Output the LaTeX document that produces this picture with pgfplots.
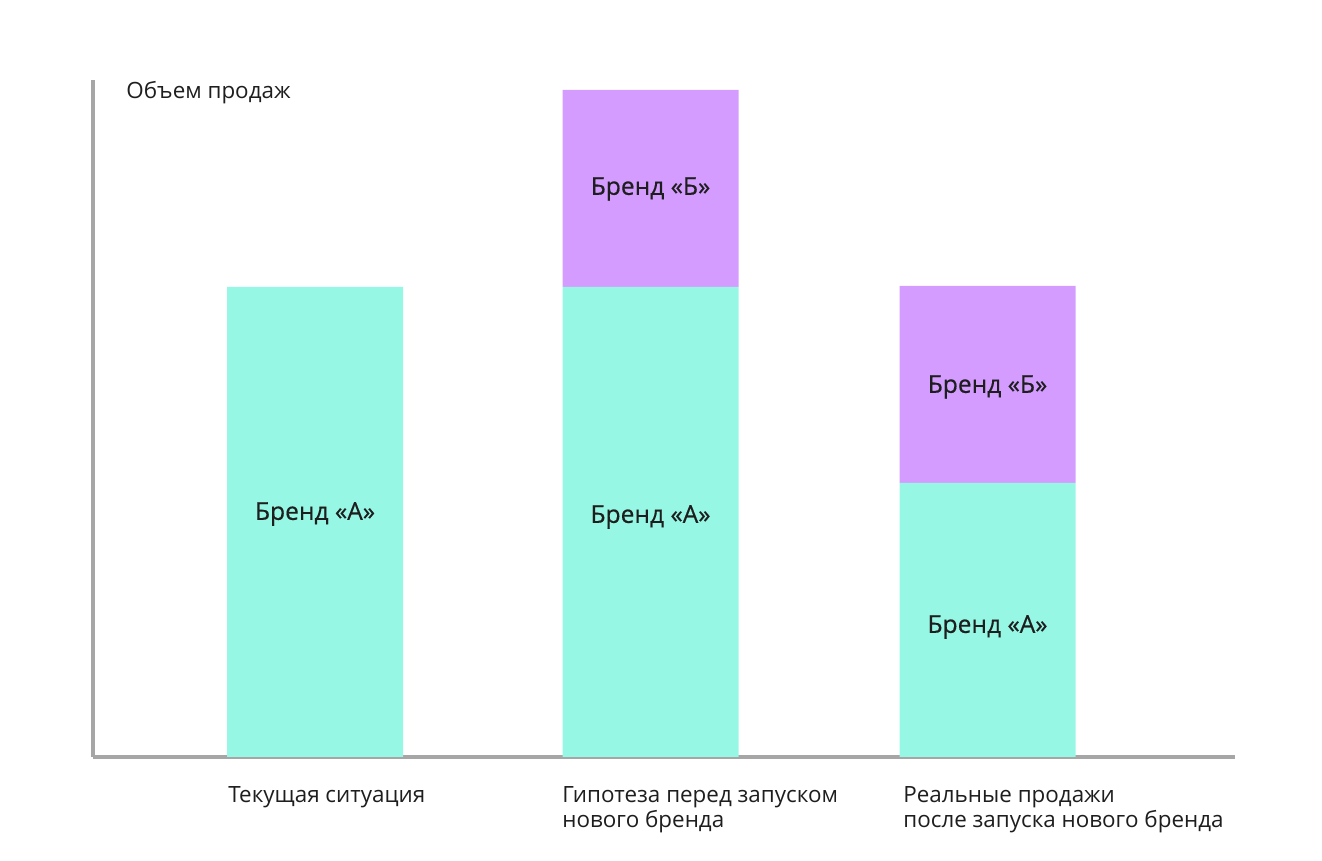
\documentclass[border=0pt]{standalone}
\usepackage{pgfplots}
\pgfplotsset{compat=1.18}
\usepackage{fontspec}
\setmainfont{Open Sans}
\newfontfamily\barfont[FakeBold=0.4]{Open Sans}
\definecolor{teal}{HTML}{96F8E4}
\definecolor{violet}{HTML}{D49CFF}
\definecolor{axgray}{HTML}{A6A6A6}
\definecolor{txt}{HTML}{1E1E1E}
\begin{document}
\begin{tikzpicture}[every node/.style={font=\fontsize{11.2}{12.5}\selectfont, text=txt},
  barlab/.style={font=\barfont\fontsize{12.3}{13}\selectfont}]
\path[use as bounding box] (0,0) rectangle (661pt,430.5pt);
\begin{axis}[
  at={(46.5pt,52pt)}, anchor=south west,
  scale only axis, width=571pt, height=338.5pt,
  xmin=93, xmax=1235, ymin=0, ymax=677,
  axis x line=bottom, axis y line=left,
  axis line style={-, axgray, line width=2.3pt},
  xtick=\empty, ytick=\empty,
  ybar stacked, bar width=176,
  clip=false,
]
\addplot[fill=teal, draw=none] coordinates {(315,470) (650.5,470) (987.5,274)};
\addplot[fill=violet, draw=none] coordinates {(315,0) (650.5,197) (987.5,197)};
\coordinate (l1) at (axis cs:315,243);
\coordinate (l2) at (axis cs:650.5,240);
\coordinate (l3) at (axis cs:650.5,568);
\coordinate (l4) at (axis cs:987.5,370);
\coordinate (l5) at (axis cs:987.5,130);
\node[anchor=base west, inner sep=0pt] at (axis cs:126,658) {Объем продаж};
\node[anchor=base west, inner sep=0pt] at (axis cs:228,-46) {Текущая ситуация};
\node[anchor=base west, inner sep=0pt] at (axis cs:562,-46) {Гипотеза перед запуском};
\node[anchor=base west, inner sep=0pt] at (axis cs:562,-71) {нового бренда};
\node[anchor=base west, inner sep=0pt] at (axis cs:903,-46) {Реальные продажи};
\node[anchor=base west, inner sep=0pt] at (axis cs:903,-71) {после запуска нового бренда};
\end{axis}
\node[barlab] at (l1) {Бренд «А»};
\node[barlab] at (l2) {Бренд «А»};
\node[barlab] at (l3) {Бренд «Б»};
\node[barlab] at (l4) {Бренд «Б»};
\node[barlab] at (l5) {Бренд «А»};
\end{tikzpicture}
\end{document}
